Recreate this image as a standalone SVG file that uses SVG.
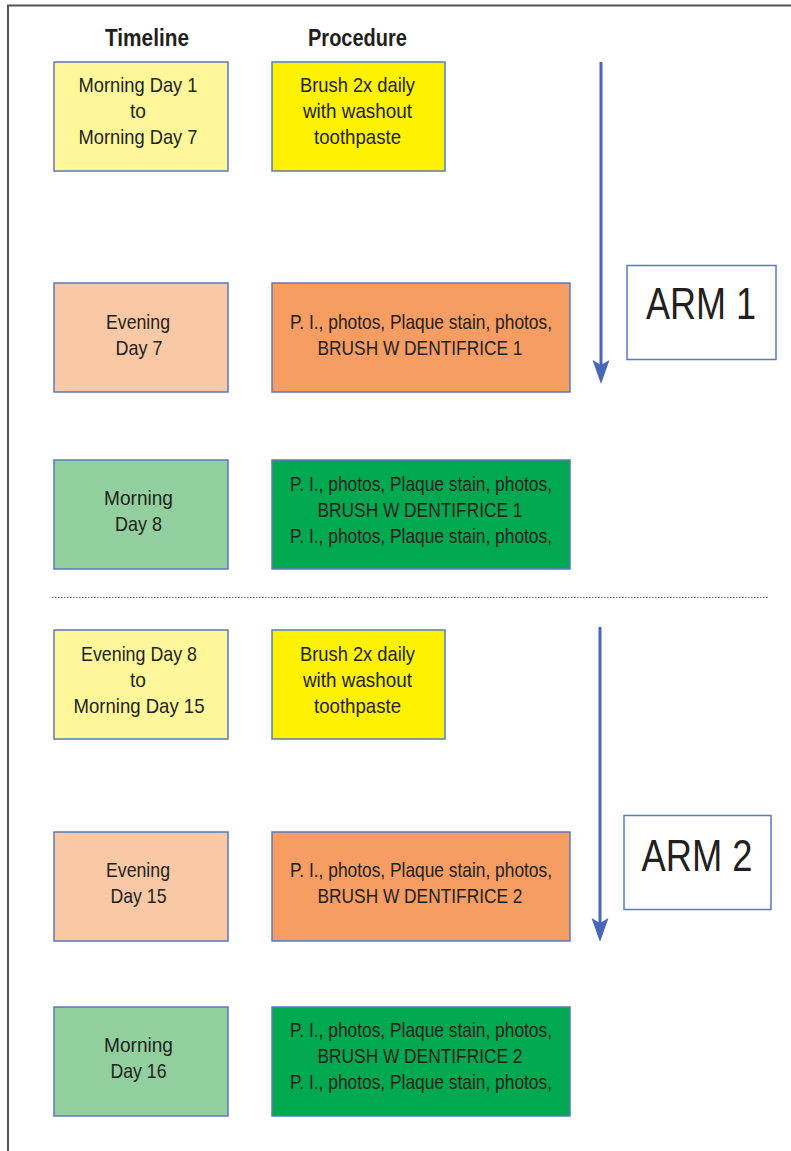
<svg xmlns="http://www.w3.org/2000/svg" width="791" height="1151" viewBox="0 0 791 1151">
<style>
  .box { stroke: #5a79c0; stroke-width: 1.5; }
  .t { font-family: "Liberation Sans", Arial, sans-serif; font-size: 21px; fill: #231f20; text-anchor: middle; }
  .h { font-family: "Liberation Sans", Arial, sans-serif; font-size: 24px; font-weight: bold; fill: #231f20; text-anchor: middle; }
  .arm { font-family: "Liberation Sans", Arial, sans-serif; font-size: 44px; fill: #231f20; text-anchor: middle; }
  .ly { fill: #fff799; } .y { fill: #fff200; }
  .lo { fill: #f9c8a5; } .o { fill: #f59d62; }
  .lg { fill: #92cf9e; } .g { fill: #00a84f; }
  .armbox { fill: #ffffff; stroke: #5a79c0; stroke-width: 1.5; }
  .conn { stroke: #4a66b8; stroke-width: 3; fill: none; }
</style>
<defs>
  <marker id="ah" markerUnits="userSpaceOnUse" markerWidth="26" markerHeight="20" viewBox="0 -9 26 18" refX="5" refY="0" orient="auto">
    <path d="M0,-8.5 L24,0 L0,8.5 L5,0 Z" fill="#4a66b8"/>
  </marker>
</defs>
<rect width="791" height="1151" fill="#ffffff"/>
<g id="frame" fill="none" stroke="#555555" stroke-width="2">
  <path d="M8,1151 L8,5.5 L791,5.5"/>
</g>
<g id="headers">
  <text class="h" x="147" y="46" textLength="84" lengthAdjust="spacingAndGlyphs">Timeline</text>
  <text class="h" x="357.5" y="46" textLength="99" lengthAdjust="spacingAndGlyphs">Procedure</text>
</g>
<g id="t1"><rect class="box ly" x="54" y="62" width="174" height="109"/>
  <text class="t" x="138" y="92" textLength="119" lengthAdjust="spacingAndGlyphs">Morning Day 1</text>
  <text class="t" x="138" y="118" textLength="16" lengthAdjust="spacingAndGlyphs">to</text>
  <text class="t" x="138" y="144" textLength="119" lengthAdjust="spacingAndGlyphs">Morning Day 7</text></g>
<g id="p1"><rect class="box y" x="272" y="62" width="173" height="109"/>
  <text class="t" x="357.5" y="92" textLength="115" lengthAdjust="spacingAndGlyphs">Brush 2x daily</text>
  <text class="t" x="357.5" y="118" textLength="109" lengthAdjust="spacingAndGlyphs">with washout</text>
  <text class="t" x="357.5" y="144" textLength="87" lengthAdjust="spacingAndGlyphs">toothpaste</text></g>
<g id="t2"><rect class="box lo" x="54" y="283" width="174" height="109"/>
  <text class="t" x="138" y="329" textLength="64" lengthAdjust="spacingAndGlyphs">Evening</text>
  <text class="t" x="139" y="355" textLength="47" lengthAdjust="spacingAndGlyphs">Day 7</text></g>
<g id="p2"><rect class="box o" x="272" y="283" width="298" height="109"/>
  <text class="t" x="421" y="329" textLength="262" lengthAdjust="spacingAndGlyphs">P. I., photos, Plaque stain, photos,</text>
  <text class="t" x="420" y="355" textLength="205" lengthAdjust="spacingAndGlyphs">BRUSH W DENTIFRICE 1</text></g>
<g id="t3"><rect class="box lg" x="54" y="460" width="174" height="109"/>
  <text class="t" x="138.5" y="505" textLength="69" lengthAdjust="spacingAndGlyphs">Morning</text>
  <text class="t" x="138.5" y="531" textLength="47" lengthAdjust="spacingAndGlyphs">Day 8</text></g>
<g id="p3"><rect class="box g" x="272" y="460" width="298" height="109"/>
  <text class="t" x="421" y="491" textLength="262" lengthAdjust="spacingAndGlyphs">P. I., photos, Plaque stain, photos,</text>
  <text class="t" x="420" y="517" textLength="205" lengthAdjust="spacingAndGlyphs">BRUSH W DENTIFRICE 1</text>
  <text class="t" x="421" y="543" textLength="262" lengthAdjust="spacingAndGlyphs">P. I., photos, Plaque stain, photos,</text></g>
<g id="divider"><line x1="52" y1="597.5" x2="768" y2="597.5" stroke="#666666" stroke-width="1.2" stroke-dasharray="1.5 1.5"/></g>
<g id="t4"><rect class="box ly" x="54" y="630" width="174" height="109"/>
  <text class="t" x="139" y="661" textLength="116" lengthAdjust="spacingAndGlyphs">Evening Day 8</text>
  <text class="t" x="138" y="687" textLength="16" lengthAdjust="spacingAndGlyphs">to</text>
  <text class="t" x="139" y="713" textLength="131" lengthAdjust="spacingAndGlyphs">Morning Day 15</text></g>
<g id="p4"><rect class="box y" x="272" y="630" width="173" height="109"/>
  <text class="t" x="357.5" y="661" textLength="115" lengthAdjust="spacingAndGlyphs">Brush 2x daily</text>
  <text class="t" x="357.5" y="687" textLength="109" lengthAdjust="spacingAndGlyphs">with washout</text>
  <text class="t" x="357.5" y="713" textLength="87" lengthAdjust="spacingAndGlyphs">toothpaste</text></g>
<g id="t5"><rect class="box lo" x="54" y="832" width="174" height="109"/>
  <text class="t" x="138" y="877" textLength="64" lengthAdjust="spacingAndGlyphs">Evening</text>
  <text class="t" x="138.5" y="903" textLength="56" lengthAdjust="spacingAndGlyphs">Day 15</text></g>
<g id="p5"><rect class="box o" x="272" y="832" width="298" height="109"/>
  <text class="t" x="421" y="877" textLength="262" lengthAdjust="spacingAndGlyphs">P. I., photos, Plaque stain, photos,</text>
  <text class="t" x="420" y="903" textLength="205" lengthAdjust="spacingAndGlyphs">BRUSH W DENTIFRICE 2</text></g>
<g id="t6"><rect class="box lg" x="54" y="1007" width="174" height="109"/>
  <text class="t" x="138.5" y="1052" textLength="69" lengthAdjust="spacingAndGlyphs">Morning</text>
  <text class="t" x="138.5" y="1078" textLength="56" lengthAdjust="spacingAndGlyphs">Day 16</text></g>
<g id="p6"><rect class="box g" x="272" y="1007" width="298" height="109"/>
  <text class="t" x="421" y="1037" textLength="262" lengthAdjust="spacingAndGlyphs">P. I., photos, Plaque stain, photos,</text>
  <text class="t" x="420" y="1063" textLength="205" lengthAdjust="spacingAndGlyphs">BRUSH W DENTIFRICE 2</text>
  <text class="t" x="421" y="1089" textLength="262" lengthAdjust="spacingAndGlyphs">P. I., photos, Plaque stain, photos,</text></g>
<g id="arm1"><rect class="armbox" x="627" y="265.5" width="149" height="94"/>
  <text class="arm" x="701" y="319" textLength="110" lengthAdjust="spacingAndGlyphs">ARM 1</text></g>
<g id="arm2"><rect class="armbox" x="624" y="815.5" width="147" height="94"/>
  <text class="arm" x="697" y="871" textLength="111" lengthAdjust="spacingAndGlyphs">ARM 2</text></g>
<g id="connectors">
  <line class="conn" x1="601" y1="62" x2="601" y2="365" marker-end="url(#ah)"/>
  <line class="conn" x1="600" y1="627" x2="600" y2="923" marker-end="url(#ah)"/>
</g>
</svg>
